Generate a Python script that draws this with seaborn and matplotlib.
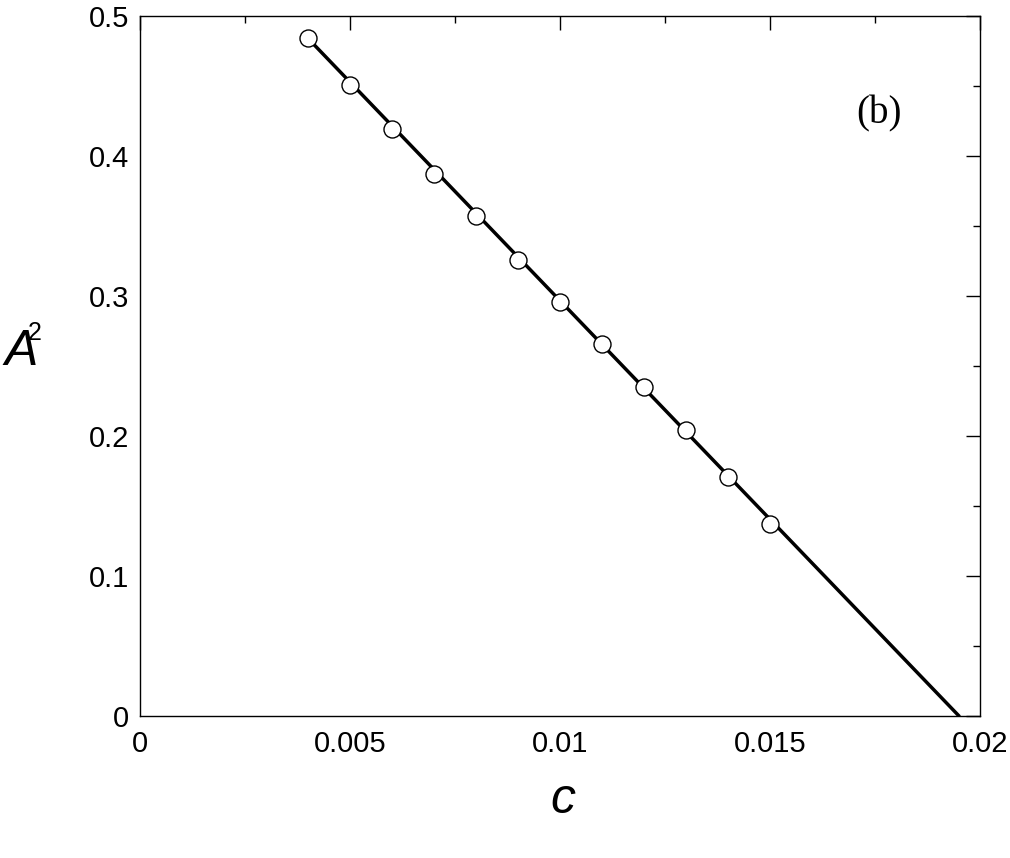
import matplotlib
matplotlib.use("Agg")
import matplotlib.pyplot as plt
import seaborn as sns
from matplotlib.ticker import MultipleLocator

c_vals = [0.004, 0.005, 0.006, 0.007, 0.008, 0.009, 0.010, 0.011, 0.012, 0.013, 0.014, 0.015]
a2_vals = [0.484, 0.451, 0.419, 0.387, 0.357, 0.326, 0.296, 0.266, 0.235, 0.204, 0.171, 0.137]
line_c = [0.004, 0.0195]
line_a2 = [0.484, 0.0]

sns.set_theme(style="white")
plt.rcParams['font.family'] = ['Liberation Sans', 'DejaVu Sans']
plt.rcParams['text.color'] = 'black'
plt.rcParams['xtick.color'] = 'black'
plt.rcParams['ytick.color'] = 'black'

fig = plt.figure(figsize=(10.1, 8.58), dpi=100)
ax = fig.add_axes([0.1386, 0.1655, 0.8317, 0.8159])

sns.lineplot(x=line_c, y=line_a2, ax=ax, color="black", lw=2.5)
sns.scatterplot(x=c_vals, y=a2_vals, ax=ax, s=150, color="white", edgecolor="black", linewidth=1, zorder=3)

ax.set_xlim(0, 0.02)
ax.set_ylim(0, 0.5)
ax.xaxis.set_minor_locator(MultipleLocator(0.0025))
ax.yaxis.set_minor_locator(MultipleLocator(0.05))
ax.set_xticks([0, 0.005, 0.01, 0.015, 0.02])
ax.set_xticklabels(["0", "0.005", "0.01", "0.015", "0.02"])
ax.set_yticks([0, 0.1, 0.2, 0.3, 0.4, 0.5])
ax.set_yticklabels(["0", "0.1", "0.2", "0.3", "0.4", "0.5"])
ax.tick_params(which="both", direction="in", top=True, right=True, labelsize=21, colors="black")
ax.tick_params(which="major", length=10, width=1)
ax.tick_params(which="minor", length=5, width=1)
ax.tick_params(axis="x", pad=10)
ax.tick_params(axis="y", pad=8)
for s in ax.spines.values():
    s.set_color("black"); s.set_linewidth(1)

fig.text(563/1010, 1-800/858, "c", fontsize=36, style="italic", ha="center", va="center", color="black")
fig.text(4/1010, 1-352/858, "A", fontsize=36, style="italic", ha="left", va="center", color="black")
fig.text(28/1010, 1-333/858, "2", fontsize=18, ha="left", va="center", color="black")
ax.text(0.0176, 0.43, "(b)", fontsize=28, family="Liberation Serif", ha="center", va="center", color="black")

fig.savefig("out.png", dpi=100, facecolor="white")
